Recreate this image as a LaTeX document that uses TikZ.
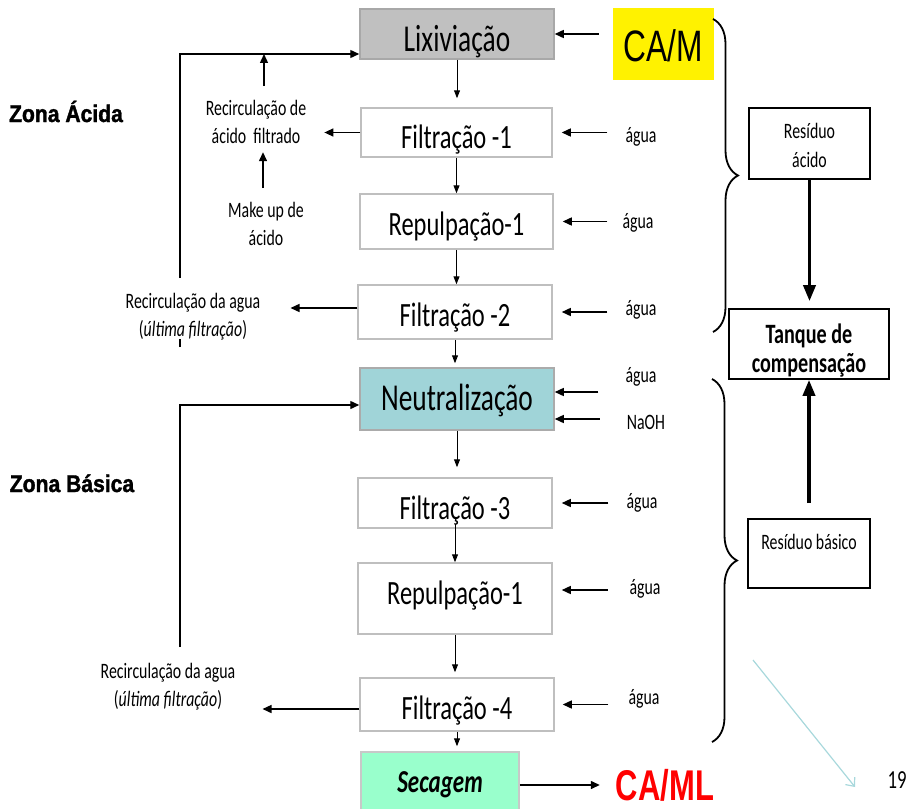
\documentclass[tikz,border=0pt]{standalone}
\usepackage{fontspec}
\setmainfont{Carlito}[FakeStretch=0.72]
\newfontfamily\narrowarial{Liberation Sans}[FakeStretch=0.72]
\newfontfamily\zonearial{Liberation Sans Bold}[FakeStretch=0.88,FakeBold=1.5]
\usetikzlibrary{arrows.meta,decorations.pathreplacing}
\newcommand\twoline[2]{\begin{tabular}[t]{@{}c@{}}#1\\#2\end{tabular}}
\definecolor{lixgray}{HTML}{C0C0C0}
\definecolor{lixborder}{HTML}{A8A8A8}
\definecolor{neucol}{HTML}{A0D4D8}
\definecolor{neuborder}{HTML}{ABABAB}
\definecolor{seccol}{HTML}{99FFCC}
\definecolor{secborder}{HTML}{C8C8C8}
\definecolor{boxline}{HTML}{BFBFBF}
\definecolor{lblue}{HTML}{A8D8DC}
\begin{document}
\begin{tikzpicture}[x=1pt,y=-1pt,
  proc/.style={draw=boxline,line width=1.5pt,minimum width=194pt,inner sep=0pt,font=\fontsize{34}{40}\selectfont,text depth=0pt},
  sidebox/.style={draw=black,line width=1.6pt,inner sep=0pt,font=\fontsize{22}{29}\selectfont},
  smalllab/.style={inner sep=0pt,font=\fontsize{22}{28}\selectfont},
  arr/.style={line width=1.4pt,-{Triangle[length=9pt,width=8pt]}},
  varr/.style={line width=1pt,-{Triangle[length=8pt,width=6pt]}},
  thk/.style={line width=3.5pt,-{Triangle[length=16pt,width=12pt]}},
  bracestyle/.style={line width=1.8pt,decorate,decoration={brace,amplitude=25pt}},
  zonelab/.style={inner sep=0pt,anchor=base,font=\zonearial\fontsize{24}{28}\selectfont}
]
\useasboundingbox (0,0) rectangle (915,808);

% main column
\node[proc,fill=lixgray,draw=lixborder,minimum height=50pt,font=\fontsize{38}{44}\selectfont,text height=36pt] (lix) at (457,34) {Lixiviação};
\node[proc,minimum width=191pt,minimum height=49pt,text height=31pt] (f1) at (456.5,132.5) {Filtração -1};
\node[proc,minimum width=193pt,minimum height=55pt,text height=27pt] (r1) at (456.5,221.5) {Repulpação-1};
\node[proc,minimum height=54pt,text height=28pt] (f2) at (455,312) {Filtração -2};
\node[proc,fill=neucol,draw=neuborder,minimum height=62pt,font=\fontsize{38}{44}\selectfont,text height=22pt] (neu) at (457,399) {Neutralização};
\node[proc,minimum height=50pt,text height=32pt] (f3) at (455,503) {Filtração -3};
\node[proc,minimum height=71pt,text height=11pt] (r2) at (455,598.5) {Repulpação-1};
\node[proc,minimum height=53pt,text height=29pt] (f4) at (457,704.5) {Filtração -4};
\node[proc,fill=seccol,draw=secborder,minimum width=158pt,minimum height=58pt,font=\bfseries\itshape\fontsize{32}{38}\selectfont,text height=22pt] (sec) at (440,781) {Secagem};

% inputs
\node[fill=yellow,minimum width=101pt,minimum height=72pt,inner sep=0pt,font=\narrowarial\fontsize{44}{50}\selectfont,text height=36pt,text depth=0pt] (cam) at (663.5,44) {CA/M};
\node[inner sep=0pt,anchor=base,text=red,font=\narrowarial\bfseries\fontsize{43}{50}\selectfont] (caml) at (665,800) {CA/ML};

\node[smalllab] (w1) at (641,137) {água};
\node[smalllab] (w2) at (638,223) {água};
\node[smalllab] (w3) at (641,310) {água};
\node[smalllab] (w4) at (641,377) {água};
\node[smalllab] (nao) at (646,422) {NaOH};
\node[smalllab] (w5) at (642,503) {água};
\node[smalllab] (w6) at (645,589) {água};
\node[smalllab] (w7) at (644,699) {água};

% right column
\node[sidebox,minimum width=121pt,minimum height=71pt,text height=0pt,text depth=11pt] (ra) at (809.5,143.5) {\twoline{Resíduo}{ácido}};
\node[sidebox,minimum width=160pt,minimum height=70pt,font=\bfseries\fontsize{28}{29}\selectfont,text height=0pt,text depth=2pt] (tq) at (809,344) {\twoline{Tanque de}{compensação}};
\node[sidebox,minimum width=122pt,minimum height=69pt,text height=0pt,text depth=9pt] (rb) at (809,553.5) {Resíduo básico};

% left labels
\node[zonelab] (za) at (66,122) {Zona Ácida};
\node[zonelab] (zb) at (72,492) {Zona Básica};
\node[smalllab,anchor=base] (rc1) at (256,115) {\twoline{Recirculação de}{ácido~ filtrado}};
\node[smalllab,anchor=base] (mk) at (266,217) {\twoline{Make up de}{ácido}};
\node[smalllab,anchor=base] (ra1) at (193,308) {\twoline{Recirculação da agua}{(\textit{última filtração})}};
\node[smalllab,anchor=base] (ra2) at (168,678) {\twoline{Recirculação da agua}{(\textit{última filtração})}};
\node[inner sep=0pt,anchor=base,font=\fontsize{26}{30}\selectfont] (pg) at (897,788) {19};

% main vertical flow
\draw[varr,shorten >=9pt] (lix.south) -- (lix.south |- f1.north);
\draw[varr] (f1.south) -- (f1.south |- r1.north);
\draw[varr] (r1.south) -- (r1.south |- f2.north);
\draw[varr,shorten >=4pt] (f2.south) -- (f2.south |- neu.north);
\draw[varr,shorten >=10pt] (neu.south) -- (neu.south |- f3.north);
\coordinate (f3in) at ([yshift=5pt]f3.south);
\draw[varr] (f3in) -- (f3in |- r2.north);
\draw[varr,shorten >=5pt] (r2.south) -- (r2.south |- f4.north);
\draw[varr,shorten >=5pt] (f4.south) -- (f4.south |- sec.north);

% input arrows
\coordinate (cA) at ([xshift=-14pt]cam.west);
\draw[arr] (cA |- lix.east) -- (lix.east);
\coordinate (s1) at ([xshift=-18pt]w1.west);
\draw[arr,shorten >=9pt] (s1 |- f1.east) -- (f1.east);
\coordinate (s2) at ([xshift=-15pt]w2.west);
\draw[arr,shorten >=9pt] (s2 |- r1.east) -- (r1.east);
\coordinate (s3) at ([xshift=-18pt]w3.west);
\draw[arr,shorten >=9pt] (s3 |- f2.east) -- (f2.east);
\coordinate (nA) at ([yshift=7pt]neu.east);
\coordinate (s4) at ([xshift=-27pt]w4.west);
\draw[arr] (s4 |- nA) -- (nA);
\coordinate (nB) at ([yshift=-20pt]neu.east);
\coordinate (s5) at ([xshift=-27pt]nao.west);
\draw[arr] (s5 |- nB) -- (nB);
\coordinate (s6) at ([xshift=-18pt]w5.west);
\draw[arr,shorten >=9pt] (s6 |- f3.east) -- (f3.east);
\coordinate (rB) at ([yshift=8.5pt]r2.east);
\coordinate (s7) at ([xshift=-21.5pt]w6.west);
\draw[arr,shorten >=9pt] (s7 |- rB) -- (rB);
\coordinate (s8) at ([xshift=-20pt]w7.west);
\draw[arr,shorten >=8pt] (s8 |- f4.east) -- (f4.east);
\coordinate (secE) at ([yshift=-4pt]sec.east);
\draw[arr,shorten >=16pt] (secE) -- (secE -| caml.west);

% recirculation (acid zone)
\coordinate (rc1e) at ([xshift=18pt]rc1.east);
\draw[arr] (f1.west) -- (rc1e |- f1.west);
\coordinate (lixin) at ([yshift=-20pt]lix.west);
\coordinate (rc1t) at ([xshift=8pt,yshift=9pt]rc1.north);
\draw[arr] (rc1t) -- (rc1t |- lixin);
\coordinate (mkt) at ([xshift=-3pt,yshift=9pt]mk.north);
\draw[arr] (mkt) -- ++(0,-36);
\coordinate (f2w) at ([yshift=4pt]f2.west);
\coordinate (ra1e) at ([xshift=30pt]ra1.east);
\draw[arr] (f2w) -- (ra1e |- f2w);
\coordinate (tkA) at (180,347);
\coordinate (tkB) at (180,339);
\coordinate (tkC) at (180,278);
\draw[line width=1.4pt] (tkA) -- (tkB);
\draw[arr] (tkC) |- (lixin);

% recirculation (basic zone)
\coordinate (f4w) at ([yshift=-4.5pt]f4.west);
\coordinate (ra2e) at ([xshift=27pt]ra2.east);
\draw[arr] (f4w) -- (ra2e |- f4w);
\coordinate (neuin) at ([yshift=-6pt]neu.west);
\coordinate (bkC) at (180,647);
\draw[arr] (bkC) |- (neuin);

% residues
\draw[thk,shorten >=7pt] (ra.south) -- (ra.south |- tq.north);
\coordinate (rbT) at ([yshift=15pt]rb.north);
\draw[thk] (rbT) -- (rbT |- tq.south);

% braces
\coordinate (brA) at (713,19);
\coordinate (brB) at (713,332);
\coordinate (brC) at (712,379);
\coordinate (brD) at (712,742);
\draw[bracestyle] (brA) -- (brB);
\draw[bracestyle] (brC) -- (brD);

% light blue arrow
\coordinate (lbA) at (753,660);
\coordinate (lbB) at (855,787);
\draw[line width=1.2pt,draw=lblue,-{Straight Barb[length=7pt,width=12pt]}] (lbA) -- (lbB);
\end{tikzpicture}
\end{document}
